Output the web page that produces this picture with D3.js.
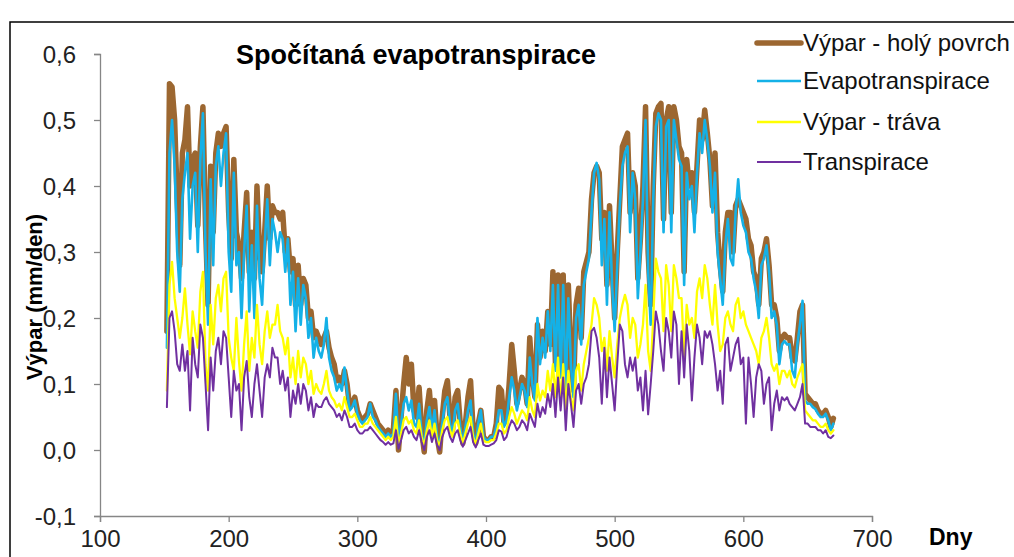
<!DOCTYPE html>
<html><head><meta charset="utf-8">
<script src="https://cdn.jsdelivr.net/npm/d3@7"></script>
<style>
html,body{margin:0;padding:0;background:#fff;}
svg{display:block;font-family:"Liberation Sans",Arial,sans-serif;}
</style></head>
<body>
<svg id="chart" width="1014" height="557"></svg>
<script>
// ---- data ----
const dayStart = 152, dayStep = 2;
const xTicks = [100, 200, 300, 400, 500, 600, 700];
const yTicks = [-0.1, 0, 0.1, 0.2, 0.3, 0.4, 0.5, 0.6];
const seriesNames = ["Výpar - holý povrch", "Evapotranspirace", "Výpar - tráva", "Transpirace"];

const holyPovrch = [
0.18,0.555,0.55,0.50,0.38,0.28,0.45,0.47,0.52,0.40,
0.44,0.45,0.34,0.46,0.52,0.34,0.22,0.43,0.33,0.45,
0.48,0.46,0.48,0.49,0.36,0.29,0.44,0.33,0.31,0.26,
0.33,0.39,0.27,0.33,0.26,0.40,0.30,0.27,0.33,0.40,
0.32,0.37,0.36,0.36,0.35,0.36,0.30,0.32,0.27,0.29,
0.22,0.28,0.22,0.26,0.25,0.20,0.21,0.17,0.18,0.17,
0.16,0.17,0.18,0.155,0.14,0.13,0.105,0.11,0.10,0.12,
0.10,0.065,0.07,0.08,0.06,0.05,0.045,0.05,0.055,0.07,
0.06,0.05,0.04,0.035,0.03,0.025,0.03,0.025,0.03,0.09,
0.0,0.05,0.10,0.14,0.10,0.13,0.06,0.05,0.095,0.03,
-0.003,0.06,0.09,0.04,0.075,0.02,-0.003,0.05,0.09,0.105,
0.05,0.03,0.08,0.09,0.04,0.01,0.04,0.08,0.105,0.03,
0.01,0.04,0.06,0.02,0.015,0.015,0.02,0.02,0.04,0.095,
0.09,0.04,0.05,0.10,0.16,0.12,0.07,0.09,0.11,0.10,
0.07,0.17,0.11,0.08,0.19,0.14,0.18,0.15,0.21,0.16,
0.27,0.13,0.265,0.12,0.265,0.10,0.25,0.14,0.09,0.22,
0.245,0.17,0.27,0.285,0.30,0.38,0.42,0.43,0.42,0.32,
0.36,0.25,0.37,0.28,0.20,0.30,0.38,0.46,0.47,0.48,
0.36,0.42,0.40,0.26,0.32,0.40,0.52,0.30,0.22,0.40,
0.51,0.52,0.525,0.35,0.50,0.52,0.36,0.52,0.50,0.46,
0.45,0.27,0.44,0.40,0.42,0.36,0.43,0.50,0.47,0.515,
0.48,0.44,0.37,0.45,0.33,0.28,0.24,0.33,0.36,0.36,
0.30,0.37,0.38,0.37,0.36,0.35,0.32,0.31,0.27,0.26,
0.22,0.29,0.30,0.32,0.28,0.22,0.22,0.20,0.15,0.17,
0.175,0.17,0.17,0.14,0.135,0.17,0.21,0.22,0.085,0.08,
0.075,0.07,0.07,0.06,0.055,0.055,0.06,0.05,0.035,0.048
];
const evapotranspirace = [
0.155,0.45,0.50,0.43,0.30,0.24,0.38,0.42,0.45,0.32,
0.40,0.42,0.30,0.44,0.51,0.30,0.19,0.41,0.28,0.43,
0.46,0.40,0.45,0.48,0.30,0.24,0.42,0.28,0.30,0.20,
0.30,0.37,0.21,0.31,0.20,0.37,0.26,0.22,0.31,0.38,
0.28,0.35,0.33,0.30,0.33,0.32,0.27,0.32,0.22,0.27,
0.18,0.26,0.19,0.25,0.23,0.17,0.20,0.14,0.17,0.15,
0.14,0.16,0.20,0.14,0.12,0.11,0.09,0.10,0.09,0.125,
0.09,0.06,0.065,0.075,0.055,0.045,0.04,0.045,0.05,0.07,
0.05,0.045,0.035,0.03,0.025,0.02,0.025,0.02,0.025,0.085,
0.01,0.04,0.07,0.08,0.06,0.075,0.04,0.035,0.07,0.025,
0.005,0.045,0.065,0.03,0.06,0.02,0.005,0.04,0.07,0.08,
0.04,0.025,0.06,0.07,0.035,0.01,0.035,0.06,0.075,0.025,
0.01,0.04,0.06,0.02,0.015,0.015,0.02,0.02,0.035,0.06,
0.06,0.035,0.045,0.08,0.11,0.09,0.06,0.08,0.10,0.09,
0.065,0.14,0.10,0.075,0.20,0.13,0.17,0.14,0.21,0.15,
0.25,0.12,0.25,0.11,0.25,0.09,0.23,0.13,0.08,0.20,
0.22,0.16,0.25,0.27,0.29,0.36,0.42,0.435,0.41,0.28,
0.35,0.22,0.36,0.25,0.18,0.28,0.37,0.43,0.45,0.46,
0.33,0.42,0.38,0.23,0.30,0.38,0.50,0.27,0.19,0.38,
0.49,0.51,0.50,0.33,0.49,0.50,0.33,0.50,0.47,0.44,
0.43,0.25,0.42,0.38,0.40,0.33,0.42,0.48,0.45,0.50,
0.47,0.43,0.36,0.42,0.30,0.26,0.22,0.31,0.35,0.29,
0.28,0.36,0.41,0.36,0.34,0.33,0.30,0.29,0.26,0.24,
0.20,0.28,0.29,0.31,0.27,0.20,0.21,0.19,0.13,0.16,
0.165,0.16,0.16,0.12,0.11,0.16,0.19,0.226,0.075,0.07,
0.07,0.065,0.062,0.055,0.05,0.05,0.055,0.045,0.03,0.04
];
const vyparTrava = [
0.09,0.25,0.285,0.23,0.20,0.17,0.20,0.245,0.19,0.145,
0.21,0.18,0.155,0.24,0.27,0.13,0.09,0.22,0.16,0.23,
0.25,0.21,0.26,0.27,0.17,0.14,0.12,0.20,0.135,0.09,
0.16,0.21,0.12,0.17,0.14,0.22,0.16,0.13,0.18,0.21,
0.17,0.19,0.19,0.22,0.18,0.17,0.145,0.17,0.11,0.14,
0.10,0.15,0.11,0.14,0.13,0.10,0.12,0.085,0.10,0.09,
0.085,0.10,0.12,0.09,0.08,0.075,0.065,0.07,0.06,0.08,
0.065,0.05,0.05,0.055,0.045,0.035,0.035,0.04,0.04,0.05,
0.04,0.035,0.03,0.025,0.02,0.015,0.02,0.015,0.02,0.05,
0.008,0.025,0.045,0.05,0.04,0.045,0.03,0.025,0.045,0.02,
0.005,0.03,0.045,0.02,0.04,0.015,0.005,0.03,0.045,0.05,
0.03,0.02,0.04,0.045,0.025,0.01,0.025,0.04,0.05,0.02,
0.008,0.025,0.04,0.015,0.012,0.012,0.015,0.015,0.025,0.04,
0.04,0.025,0.03,0.05,0.065,0.055,0.04,0.05,0.06,0.055,
0.045,0.08,0.06,0.05,0.10,0.075,0.09,0.08,0.12,0.09,
0.13,0.08,0.14,0.07,0.13,0.06,0.12,0.08,0.06,0.12,
0.13,0.09,0.13,0.15,0.17,0.19,0.23,0.22,0.20,0.15,
0.17,0.12,0.18,0.14,0.11,0.16,0.20,0.22,0.235,0.22,
0.17,0.20,0.19,0.14,0.16,0.19,0.25,0.15,0.12,0.20,
0.29,0.27,0.26,0.18,0.28,0.25,0.18,0.28,0.26,0.23,
0.23,0.14,0.22,0.19,0.20,0.17,0.24,0.26,0.23,0.28,
0.26,0.22,0.19,0.25,0.19,0.15,0.16,0.20,0.21,0.19,
0.18,0.22,0.23,0.20,0.21,0.19,0.18,0.17,0.16,0.15,
0.13,0.17,0.18,0.20,0.17,0.13,0.12,0.13,0.10,0.12,
0.12,0.11,0.12,0.10,0.095,0.11,0.12,0.13,0.06,0.055,
0.05,0.045,0.045,0.04,0.035,0.035,0.04,0.03,0.025,0.03
];
const transpirace = [
0.065,0.20,0.21,0.18,0.13,0.12,0.16,0.12,0.15,0.06,
0.17,0.13,0.11,0.19,0.17,0.10,0.03,0.14,0.09,0.15,
0.17,0.13,0.18,0.17,0.11,0.05,0.12,0.09,0.10,0.03,
0.11,0.135,0.08,0.05,0.10,0.13,0.09,0.05,0.11,0.13,
0.11,0.155,0.14,0.14,0.10,0.12,0.09,0.11,0.05,0.09,
0.07,0.10,0.07,0.10,0.09,0.06,0.08,0.05,0.07,0.065,
0.065,0.075,0.08,0.07,0.065,0.06,0.05,0.055,0.045,0.06,
0.05,0.035,0.035,0.04,0.03,0.025,0.025,0.03,0.03,0.035,
0.03,0.025,0.02,0.015,0.012,0.008,0.012,0.008,0.01,0.03,
0.002,0.015,0.03,0.035,0.025,0.03,0.02,0.015,0.03,0.012,
0.0,0.02,0.03,0.012,0.025,0.008,0.0,0.02,0.03,0.035,
0.02,0.012,0.025,0.03,0.015,0.005,0.015,0.025,0.035,0.012,
0.004,0.015,0.025,0.008,0.006,0.006,0.008,0.01,0.015,0.03,
0.028,0.015,0.02,0.035,0.045,0.04,0.03,0.035,0.045,0.04,
0.03,0.055,0.045,0.035,0.07,0.05,0.065,0.055,0.085,0.065,
0.10,0.05,0.11,0.06,0.11,0.03,0.10,0.07,0.035,0.09,
0.10,0.07,0.10,0.11,0.13,0.18,0.185,0.17,0.14,0.07,
0.155,0.08,0.14,0.10,0.06,0.13,0.19,0.18,0.13,0.11,
0.14,0.12,0.14,0.09,0.11,0.06,0.12,0.054,0.10,0.15,
0.21,0.19,0.15,0.12,0.20,0.18,0.14,0.21,0.19,0.10,
0.18,0.11,0.19,0.15,0.075,0.14,0.19,0.17,0.13,0.18,
0.17,0.18,0.16,0.13,0.09,0.12,0.07,0.16,0.17,0.12,
0.14,0.16,0.17,0.13,0.14,0.04,0.14,0.10,0.05,0.11,
0.13,0.12,0.07,0.10,0.11,0.03,0.07,0.09,0.06,0.08,
0.075,0.08,0.07,0.065,0.06,0.07,0.08,0.10,0.04,0.04,
0.035,0.035,0.035,0.03,0.03,0.025,0.03,0.02,0.018,0.022
];

// ---- drawing ----
const svg = d3.select("#chart");
const x = d3.scaleLinear().domain([100, 700]).range([100, 872]);
const y = d3.scaleLinear().domain([-0.1, 0.6]).range([516, 54]);
const days = holyPovrch.map((_, i) => dayStart + i * dayStep);
const locale = d3.formatLocale({decimal: ",", thousands: " ", grouping: [3], currency: ["", ""], minus: "-"});
const fmt = locale.format(".1f");

// frame
svg.append("rect").attr("x", 10).attr("y", 22).attr("width", 1100).attr("height", 700)
  .attr("fill", "none").attr("stroke", "#000").attr("stroke-width", 1.5);

// axes
const yAxis = svg.append("g").attr("transform", "translate(100,0)")
  .call(d3.axisLeft(y).tickValues(yTicks).tickFormat(fmt).tickSize(6).tickPadding(18));
const xAxis = svg.append("g").attr("transform", "translate(0,516)")
  .call(d3.axisBottom(x).tickValues(xTicks).tickFormat(d3.format("d")).tickSize(6).tickPadding(10));
[yAxis, xAxis].forEach(g => {
  g.select(".domain").attr("stroke", "#868686").attr("stroke-width", 1.3);
  g.selectAll(".tick line").attr("stroke", "#868686").attr("stroke-width", 1.3);
  g.selectAll(".tick text").attr("fill", "#222").style("font-size", "24px")
    .style("font-family", "'Liberation Sans', Arial, sans-serif");
});
yAxis.selectAll(".tick text").attr("dy", "0.36em");
xAxis.selectAll(".tick text").attr("dy", "0.62em");

// lines
const colors = ["#9C6731", "#14B1E7", "#FFFF00", "#7030A0"];
const widths = [5.5, 2.6, 2.3, 2];
const allSeries = [holyPovrch, evapotranspirace, vyparTrava, transpirace];
const line = d3.line().x((d, i) => x(days[i])).y(d => y(d)).curve(d3.curveLinear);
allSeries.forEach((s, k) => {
  svg.append("path").datum(s).attr("d", line).attr("fill", "none")
    .attr("stroke", colors[k]).attr("stroke-width", widths[k])
    .attr("stroke-linejoin", "round").attr("stroke-linecap", "round");
});

// title
svg.append("text").attr("x", 416).attr("y", 64).attr("text-anchor", "middle")
  .style("font-size", "27px").style("font-weight", "bold").text("Spočítaná evapotranspirace");

// axis titles
svg.append("text").attr("transform", "translate(42,297) rotate(-90)").attr("text-anchor", "middle")
  .style("font-size", "22px").style("font-weight", "bold").text("Výpar (mm/den)");
svg.append("text").attr("x", 929).attr("y", 545)
  .style("font-size", "23px").style("font-weight", "bold").text("Dny");

// legend
const legY = [43, 81, 122, 162];
seriesNames.forEach((n, k) => {
  svg.append("line").attr("x1", 757).attr("x2", 801).attr("y1", legY[k]).attr("y2", legY[k])
    .attr("stroke", colors[k]).attr("stroke-width", widths[k]).attr("stroke-linecap", k === 0 ? "round" : "butt");
  svg.append("text").attr("x", 803).attr("y", legY[k] + 8).style("font-size", "24px").attr("fill", "#111").text(n);
});
</script>
</body></html>
